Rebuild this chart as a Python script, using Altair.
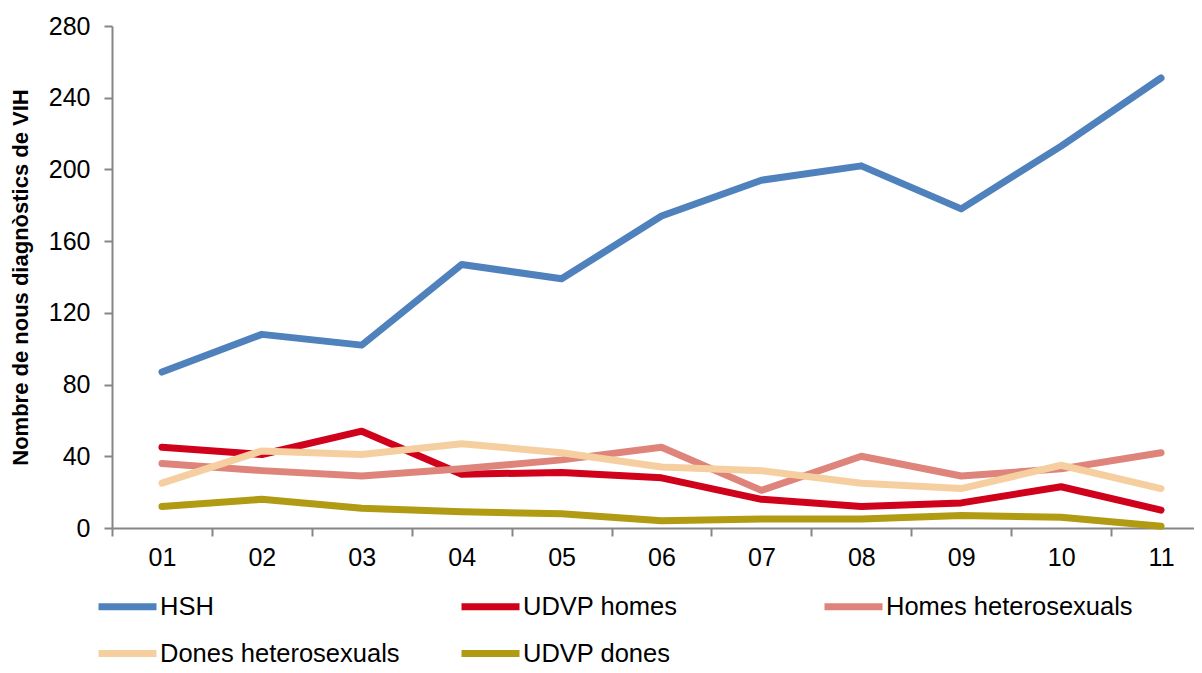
import altair as alt
import pandas as pd

years = ["01", "02", "03", "04", "05", "06", "07", "08", "09", "10", "11"]
series_names = ["HSH", "UDVP homes", "Homes heterosexuals", "Dones heterosexuals", "UDVP dones"]
hsh = [87, 108, 102, 147, 139, 174, 194, 202, 178, 213, 251]
udvp_homes = [45, 41, 54, 30, 31, 28, 16, 12, 14, 23, 10]
homes_het = [36, 32, 29, 33, 38, 45, 21, 40, 29, 33, 42]
dones_het = [25, 43, 41, 47, 42, 34, 32, 25, 22, 35, 22]
udvp_dones = [12, 16, 11, 9, 8, 4, 5, 5, 7, 6, 1]
colors = ["#4F81BD", "#D0021B", "#DE847B", "#F5CF9F", "#B09B13"]

values = [hsh, udvp_homes, homes_het, dones_het, udvp_dones]
rows = []
for name, vals in zip(series_names, values):
    for yr, v in zip(years, vals):
        rows.append({"Any": yr, "Valor": v, "Grup": name})
df = pd.DataFrame(rows)

font = "Liberation Sans"

chart = alt.Chart(df).mark_line(strokeWidth=7, strokeCap="round", strokeJoin="round").encode(
    x=alt.X("Any:N", sort=years,
            scale=alt.Scale(type="band", paddingInner=0, paddingOuter=0, range=[0, 1099]),
            axis=alt.Axis(title=None, labelAngle=0, tickBand="extent", labelFont=font,
                          labelFontSize=25, labelColor="#000000", labelPadding=9,
                          domainColor="#868686", domainWidth=2, tickColor="#868686",
                          tickWidth=2, tickSize=8)),
    y=alt.Y("Valor:Q", scale=alt.Scale(domain=[0, 280], nice=False),
            axis=alt.Axis(title="Nombre de nous diagnòstics de VIH", values=list(range(0, 281, 40)),
                          grid=False, labelFont=font, labelFontSize=25, labelColor="#000000",
                          labelPadding=14, domainColor="#868686", domainWidth=2,
                          tickColor="#868686", tickWidth=2, tickSize=8,
                          titleFont=font, titleFontSize=22, titleFontWeight="bold",
                          titleColor="#000000", titleX=-80, titleY=251, titleAngle=-90,
                          titleBaseline="bottom", titleAlign="center")),
    color=alt.Color("Grup:N", sort=series_names,
                    scale=alt.Scale(domain=series_names, range=colors),
                    legend=alt.Legend(title=None, orient="none", legendX=-17, legendY=548,
                                      columns=3, gridAlign="all", columnPadding=40,
                                      rowPadding=-40, symbolType="stroke", symbolSize=3364,
                                      symbolStrokeWidth=7, labelFont=font, labelFontSize=25.5,
                                      labelColor="#000000", labelOffset=0, labelLimit=400,
                                      padding=0, direction="horizontal")),
    order=alt.Order("Any:N"),
).properties(
    width=1082, height=502,
    padding={"left": 104, "top": 18, "right": 0, "bottom": 137},
    autosize=alt.AutoSizeParams(type="none"),
).configure_view(stroke=None)

chart.save("out.html", embed_options={"renderer": "svg", "actions": False})
